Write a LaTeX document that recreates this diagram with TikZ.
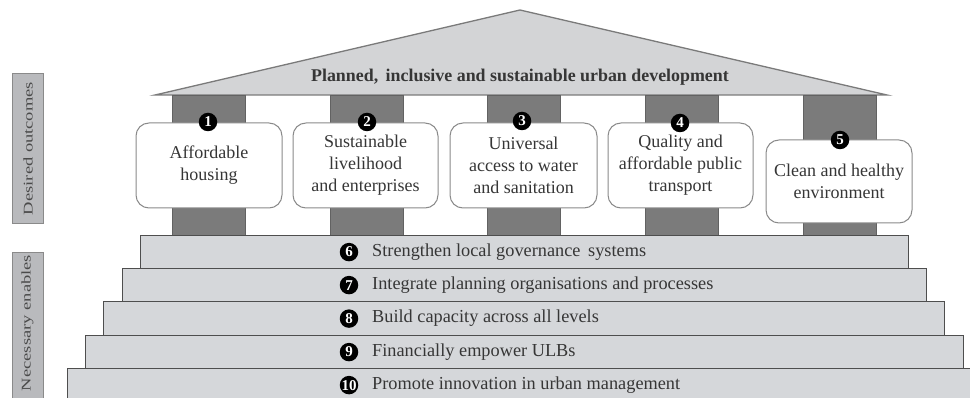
\documentclass[tikz,border=0pt]{standalone}
\usepackage{fontspec}
\setmainfont{Liberation Serif}
\usepackage{graphicx}
\definecolor{roofc}{HTML}{D3D4D6}
\definecolor{roofl}{HTML}{7A7A7A}
\definecolor{colc}{HTML}{7B7B7B}
\definecolor{stepc}{HTML}{D5D7DA}
\definecolor{stepl}{HTML}{4E4E4E}
\definecolor{boxl}{HTML}{8A8A8A}
\definecolor{sidec}{HTML}{B9BABD}
\definecolor{txt}{HTML}{363636}
\tikzset{
  colbox/.style={draw=colc!80!black, fill=colc, line width=0.6pt},
  outbox/.style={draw=boxl, fill=white, rounded corners=13pt, line width=1pt,
    align=center, text=txt, font=\fontsize{18}{22}\selectfont, inner sep=0pt},
  numc/.style={circle, fill=black, text=white, inner sep=0pt, minimum size=18.5pt,
    font=\bfseries\fontsize{15}{15}\selectfont},
  stepbox/.style={draw=stepl, fill=stepc, line width=1.2pt, anchor=north west,
    minimum height=33pt, inner sep=0pt},
  steptxt/.style={anchor=west, text=txt, font=\fontsize{18.3}{20}\selectfont, inner sep=0pt},
  sidebox/.style={draw=boxl, fill=sidec, line width=1pt, anchor=north west,
    minimum width=31pt, inner sep=0pt},
  sidetxt/.style={text=txt!90, font=\fontsize{18.5}{18}\selectfont, inner sep=0pt}
}
\begin{document}
\begin{tikzpicture}[x=1pt, y=-1pt]
\useasboundingbox (0,0) rectangle (970,398);
% roof
\coordinate (rl) at (155,95);
\coordinate (ra) at (520,10);
\coordinate (rr) at (887,95);
\draw[fill=roofc, draw=roofl, line width=1.3pt, line join=miter] (rl) -- (ra) -- (rr) -- cycle;
\node[font=\bfseries\fontsize{17.9}{18}\selectfont, text=txt] (title) at (520,77) {Planned,\, inclusive and sustainable urban development};
% columns
\foreach \x/\n in {172/1,330/2,487/3,645/4,803/5}{
  \node[colbox, anchor=north west, minimum width=73pt, minimum height=140pt] (col\n) at (\x,95) {};
}
% steps
\clip (0,0) rectangle (970,398);
\node[stepbox, minimum width=930pt] (s10) at (67,368) {};
\node[stepbox, minimum width=878pt] (s9) at (85,335) {};
\node[stepbox, minimum width=841pt, minimum height=34pt] (s8) at (103,301) {};
\node[stepbox, minimum width=804pt] (s7) at (122,268) {};
\node[stepbox, minimum width=768pt] (s6) at (140,235) {};
\foreach \n/\t in {6/{Strengthen local governance\, systems},7/{Integrate planning organisations and processes},8/{Build capacity across all levels},9/{Financially empower ULBs},10/{Promote innovation in urban management}}{
  \node[numc] (c\n) at (349,0 |- s\n.center) {\n};
  \node[steptxt] (t\n) at ([xshift=23pt]c\n.center) {\t};
}
% outcome boxes
\node[outbox, minimum width=146pt, minimum height=85pt] (b1) at (209,165.5) {Affordable\\housing};
\node[outbox, minimum width=145pt, minimum height=85pt] (b2) at (365.5,165.5) {Sustainable\\livelihood\\and enterprises};
\node[outbox, minimum width=147pt, minimum height=85pt] (b3) at (523.5,165.5) {Universal\\access to water\\and sanitation};
\node[outbox, minimum width=145pt, minimum height=85pt] (b4) at (680.5,165.5) {Quality and\\affordable public\\transport};
\node[outbox, minimum width=146pt, minimum height=83pt] (b5) at (839,181.5) {Clean and healthy\\environment};
\node[numc] (n1) at (208,122) {1};
\node[numc] (n2) at (367,122) {2};
\node[numc] (n3) at (522,121) {3};
\node[numc] (n4) at (680,123) {4};
\node[numc] (n5) at (840,140) {5};
% side labels
\node[sidebox, minimum height=150pt] (sd) at (12,73) {};
\node[sidetxt] (sdt) at (sd.center) {\rotatebox{90}{\scalebox{1}[0.72]{Desired outcomes}}};
\node[sidebox, minimum height=160pt] (sn) at (12,252) {};
\node[sidetxt] (snt) at (27.5,323) {\rotatebox{90}{\scalebox{1}[0.72]{Necessary enables}}};
\end{tikzpicture}
\end{document}
